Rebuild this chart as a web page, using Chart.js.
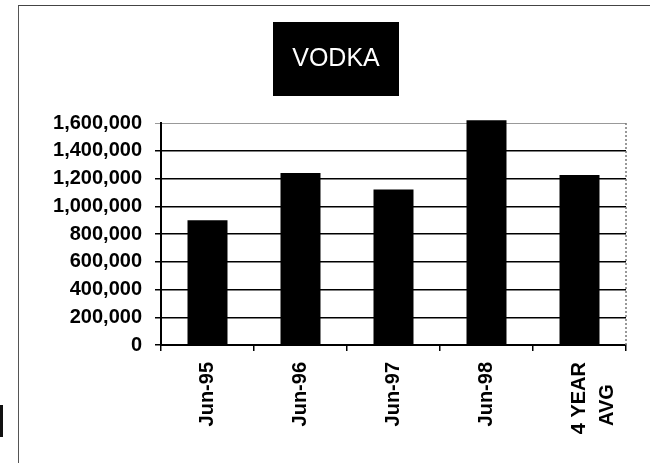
<!DOCTYPE html>
<html>
<head>
<meta charset="utf-8">
<script src="https://cdn.jsdelivr.net/npm/chart.js@4"></script>
<style>
  html, body { margin: 0; padding: 0; background: #fff; }
  #wrap { position: relative; width: 650px; height: 463px; overflow: hidden; }
  #frame { position: absolute; left: 18px; top: 5px; width: 640px; height: 470px;
           border-top: 1px solid #444; border-left: 1px solid #555; }
  #speck { position: absolute; left: 0; top: 405px; width: 3px; height: 32px; background: #111; }
  canvas { position: absolute; left: 0; top: 0; }
</style>
</head>
<body>
<div id="wrap">
  <div id="frame"></div>
  <div id="speck"></div>
  <canvas id="chart" width="650" height="463"></canvas>
</div>
<script>
// data
const categories = ["Jun-95", "Jun-96", "Jun-97", "Jun-98", ["4 YEAR", "AVG    "]];
const volumes = [900000, 1240000, 1120000, 1620000, 1225000];
const yMin = 0;
const yMax = 1600000;
const yStep = 200000;
const chartTitle = "VODKA";

const FONT = "'Liberation Sans', Arial, sans-serif";

// black box behind the title, plus the dotted right edge of the plot
const titleBox = {
  id: "titleBox",
  beforeDraw(chart) {
    const t = chart.titleBlock;
    const ctx = chart.ctx;
    const cx = (t.left + t.right) / 2;
    const cy = t.top + 44 + 15;
    ctx.save();
    ctx.fillStyle = "#000";
    ctx.fillRect(cx - 63, cy - 37, 126, 74);
    ctx.restore();
  },
  afterDraw(chart) {
    const a = chart.chartArea;
    const ctx = chart.ctx;
    ctx.save();
    ctx.strokeStyle = "#777";
    ctx.lineWidth = 1.5;
    ctx.setLineDash([2, 2]);
    ctx.beginPath();
    ctx.moveTo(a.right, a.top);
    ctx.lineTo(a.right, a.bottom);
    ctx.stroke();
    ctx.restore();
  }
};

new Chart(document.getElementById("chart"), {
  type: "bar",
  data: {
    labels: categories,
    datasets: [{
      data: volumes,
      backgroundColor: "#000",
      borderWidth: 0,
      categoryPercentage: 1,
      barPercentage: 0.43,
      clip: false
    }]
  },
  options: {
    responsive: false,
    animation: false,
    layout: { padding: { left: 46, right: 24, top: 0, bottom: 0 } },
    plugins: {
      legend: { display: false },
      tooltip: { enabled: false },
      title: {
        display: true,
        text: chartTitle,
        color: "#fff",
        font: { family: FONT, size: 25, weight: "normal", lineHeight: 1.2 },
        padding: { top: 44, bottom: 49 }
      }
    },
    scales: {
      x: {
        offset: true,
        grid: { drawOnChartArea: false, offset: true, color: "#000", lineWidth: 1.5, tickLength: 6 },
        border: { color: "#000", width: 2 },
        ticks: {
          color: "#000",
          minRotation: 90,
          maxRotation: 90,
          padding: 11,
          font: { family: FONT, size: 20, weight: "bold", lineHeight: 1.4 }
        },
        afterFit(scale) { scale.height = 118; }
      },
      y: {
        min: yMin,
        max: yMax,
        grid: {
          color: ctx => (ctx.tick && ctx.tick.value === yMax ? "#999" : "#000"),
          lineWidth: ctx => (ctx.tick && ctx.tick.value === yMax ? 1 : 1.5),
          tickLength: 6
        },
        border: { color: "#000", width: 2 },
        ticks: {
          stepSize: yStep,
          color: "#000",
          padding: 13,
          font: { family: FONT, size: 20, weight: "bold" },
          callback: v => v.toString().replace(/\B(?=(\d{3})+(?!\d))/g, ",")
        },
        afterFit(scale) { scale.width = 115; }
      }
    }
  },
  plugins: [titleBox]
});
</script>
</body>
</html>
